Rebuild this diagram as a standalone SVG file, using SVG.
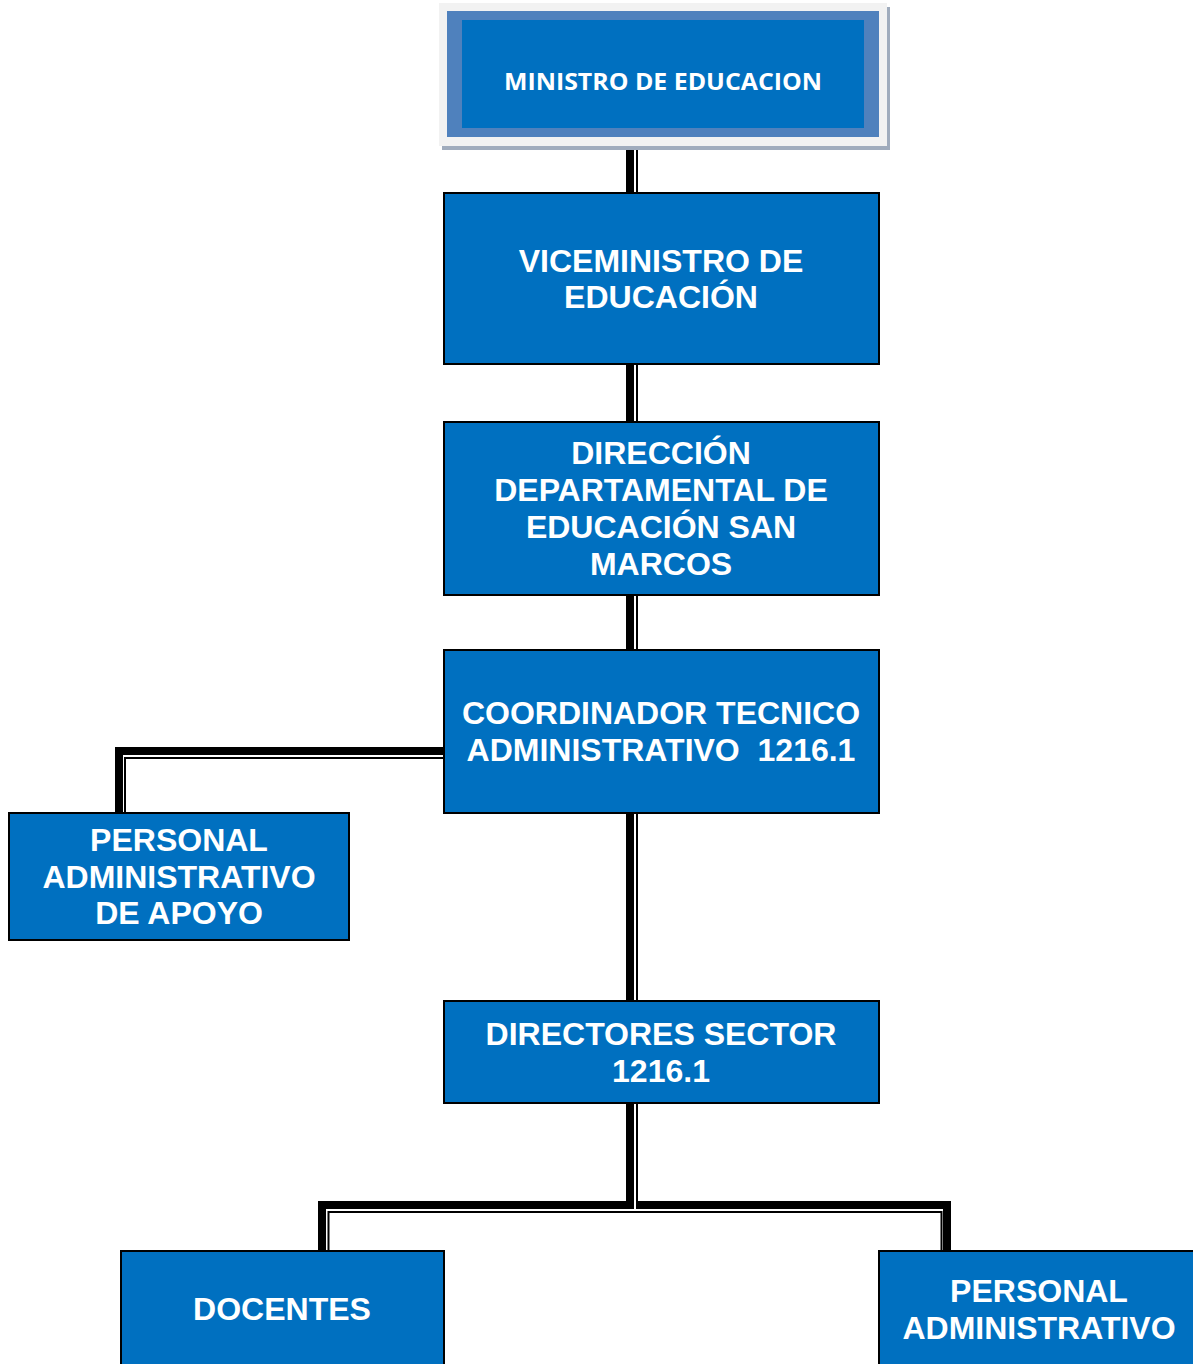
<svg xmlns="http://www.w3.org/2000/svg" width="1193" height="1364" viewBox="0 0 1193 1364">
<style>
.box{fill:#0070c0;stroke:#000;stroke-width:2}
.t{fill:#fff;font-family:"Liberation Sans",Arial,sans-serif;font-weight:bold;font-size:32px;text-anchor:middle;white-space:pre}
.thick{stroke:#000;stroke-width:8;fill:none;stroke-linecap:square}
.thin{stroke:#000;stroke-width:2;fill:none}
</style>
<rect width="1193" height="1364" fill="#fff"/>
<g id="connectors">
<line class="thick" x1="630" y1="150" x2="630" y2="193" style="stroke-linecap:butt"/>
<line class="thin" x1="637" y1="150" x2="637" y2="193"/>
<line class="thick" x1="630" y1="364" x2="630" y2="422" style="stroke-linecap:butt"/>
<line class="thin" x1="637" y1="364" x2="637" y2="422"/>
<line class="thick" x1="630" y1="595" x2="630" y2="650" style="stroke-linecap:butt"/>
<line class="thin" x1="637" y1="595" x2="637" y2="650"/>
<line class="thick" x1="630" y1="813" x2="630" y2="1001" style="stroke-linecap:butt"/>
<line class="thin" x1="637" y1="813" x2="637" y2="1001"/>
<polyline class="thick" points="444,751 119,751 119,813" style="stroke-linejoin:miter"/>
<polyline class="thin" points="444,758 125,758 125,813"/>
<polyline class="thick" points="322,1251 322,1205 947,1205 947,1251" style="stroke-linejoin:miter"/>
<polyline class="thin" points="328.5,1251 328.5,1212 941.5,1212 941.5,1251"/>
<line class="thick" x1="630" y1="1103" x2="630" y2="1205" style="stroke-linecap:butt"/>
<line x1="635" y1="1103" x2="635" y2="1209" stroke="#fff" stroke-width="2"/>
<line class="thin" x1="637" y1="1103" x2="637" y2="1209"/>
</g>
<g id="ministro">
<rect x="442" y="7" width="448" height="143" fill="#a0acbd"/>
<rect x="439" y="3" width="448" height="143" fill="#f2f2f2"/>
<rect x="447" y="11" width="432" height="126" fill="#4f81bd"/>
<rect x="462" y="20" width="402" height="108" fill="#0070c0"/>
<text x="663" y="90" fill="#fff" font-family="'Open Sans',sans-serif" font-weight="700" font-size="24" text-anchor="middle" textLength="318" lengthAdjust="spacingAndGlyphs">MINISTRO DE EDUCACION</text>
</g>
<g id="viceministro">
<rect class="box" x="444" y="193" width="435" height="171"/>
<text class="t" x="661" y="272">VICEMINISTRO DE</text>
<text class="t" x="661" y="308">EDUCACIÓN</text>
</g>
<g id="direccion">
<rect class="box" x="444" y="422" width="435" height="173"/>
<text class="t" x="661" y="464">DIRECCIÓN</text>
<text class="t" x="661" y="501">DEPARTAMENTAL DE</text>
<text class="t" x="661" y="538">EDUCACIÓN SAN</text>
<text class="t" x="661" y="575">MARCOS</text>
</g>
<g id="coordinador">
<rect class="box" x="444" y="650" width="435" height="163"/>
<text class="t" x="661" y="724">COORDINADOR TECNICO</text>
<text class="t" x="661" y="761">ADMINISTRATIVO  1216.1</text>
</g>
<g id="personal-apoyo">
<rect class="box" x="9" y="813" width="340" height="127"/>
<text class="t" x="179" y="851">PERSONAL</text>
<text class="t" x="179" y="888">ADMINISTRATIVO</text>
<text class="t" x="179" y="924">DE APOYO</text>
</g>
<g id="directores">
<rect class="box" x="444" y="1001" width="435" height="102"/>
<text class="t" x="661" y="1045">DIRECTORES SECTOR</text>
<text class="t" x="661" y="1082">1216.1</text>
</g>
<g id="docentes">
<rect class="box" x="121" y="1251" width="323" height="125"/>
<text class="t" x="282" y="1320">DOCENTES</text>
</g>
<g id="personal-administrativo">
<rect class="box" x="879" y="1251" width="325" height="125"/>
<text class="t" x="1039" y="1302">PERSONAL</text>
<text class="t" x="1039" y="1339">ADMINISTRATIVO</text>
</g>
</svg>
